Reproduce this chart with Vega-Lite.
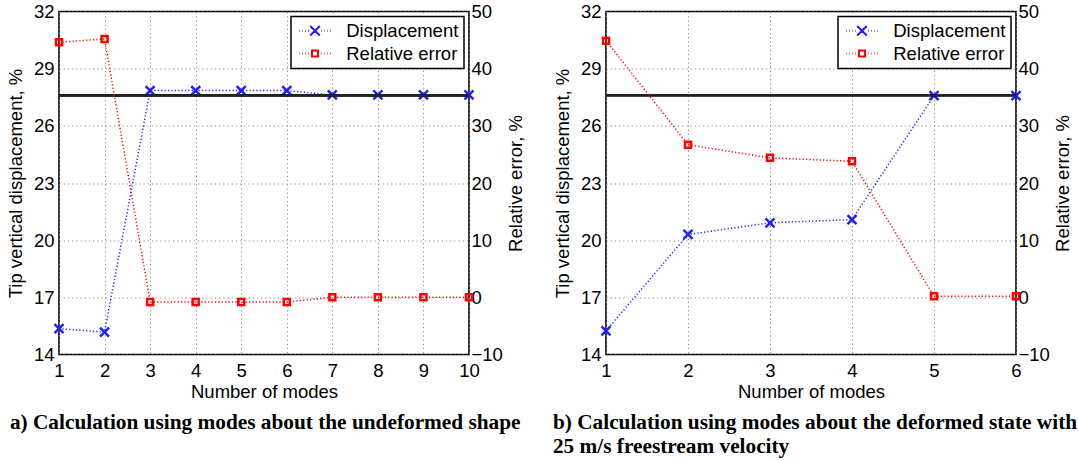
{
  "$schema": "https://vega.github.io/schema/vega-lite/v6.json",
  "padding": {"left": 6, "top": 1.5, "right": 0, "bottom": 0},
  "background": "white",
  "bounds": "flush",
  "spacing": 137,
  "datasets": {
    "a": [
      {"mode": 1, "series": "Displacement", "value": 15.36},
      {"mode": 2, "series": "Displacement", "value": 15.17},
      {"mode": 3, "series": "Displacement", "value": 27.85},
      {"mode": 4, "series": "Displacement", "value": 27.85},
      {"mode": 5, "series": "Displacement", "value": 27.85},
      {"mode": 6, "series": "Displacement", "value": 27.85},
      {"mode": 7, "series": "Displacement", "value": 27.62},
      {"mode": 8, "series": "Displacement", "value": 27.62},
      {"mode": 9, "series": "Displacement", "value": 27.62},
      {"mode": 10, "series": "Displacement", "value": 27.62},
      {"mode": 1, "series": "Relative error", "value": 44.6},
      {"mode": 2, "series": "Relative error", "value": 45.2},
      {"mode": 3, "series": "Relative error", "value": -0.8},
      {"mode": 4, "series": "Relative error", "value": -0.8},
      {"mode": 5, "series": "Relative error", "value": -0.8},
      {"mode": 6, "series": "Relative error", "value": -0.8},
      {"mode": 7, "series": "Relative error", "value": 0.0},
      {"mode": 8, "series": "Relative error", "value": 0.0},
      {"mode": 9, "series": "Relative error", "value": 0.0},
      {"mode": 10, "series": "Relative error", "value": 0.0}
    ],
    "b": [
      {"mode": 1, "series": "Displacement", "value": 15.24},
      {"mode": 2, "series": "Displacement", "value": 20.3},
      {"mode": 3, "series": "Displacement", "value": 20.91},
      {"mode": 4, "series": "Displacement", "value": 21.08},
      {"mode": 5, "series": "Displacement", "value": 27.58},
      {"mode": 6, "series": "Displacement", "value": 27.58},
      {"mode": 1, "series": "Relative error", "value": 44.9},
      {"mode": 2, "series": "Relative error", "value": 26.7},
      {"mode": 3, "series": "Relative error", "value": 24.4},
      {"mode": 4, "series": "Relative error", "value": 23.8},
      {"mode": 5, "series": "Relative error", "value": 0.2},
      {"mode": 6, "series": "Relative error", "value": 0.2}
    ]
  },
  "config": {
    "font": "Liberation Sans",
    "view": {"stroke": "black", "strokeWidth": 1.6},
    "axis": {
      "labelFont": "Liberation Sans",
      "titleFont": "Liberation Sans",
      "labelFontSize": 18.5,
      "titleFontSize": 18.5,
      "titleFontWeight": "normal",
      "labelColor": "black",
      "titleColor": "black",
      "domain": false,
      "ticks": false,
      "labelFlush": false,
      "gridColor": "#8a8a8a",
      "gridDash": [1.2, 3],
      "gridWidth": 1,
      "labelPadding": 5
    },
    "legend": {
      "labelFont": "Liberation Sans",
      "labelFontSize": 18.5,
      "labelColor": "black"
    },
    "title": {
      "font": "Liberation Serif",
      "fontSize": 21.3,
      "fontWeight": "bold",
      "color": "black"
    }
  },
  "resolve": {
    "scale": {"color": "independent", "shape": "independent"},
    "legend": {"color": "independent"}
  },
  "hconcat": [
    {
      "width": 410,
      "height": 343,
      "title": {
        "text": "a) Calculation using modes about the undeformed shape",
        "orient": "bottom",
        "anchor": "start",
        "offset": 11,
        "dx": 3
      },
      "data": {"name": "a"},
      "layer": [
        {
          "transform": [{"filter": "datum.series === 'Displacement'"}],
          "encoding": {
            "x": {
              "field": "mode", "type": "quantitative",
              "scale": {"domain": [1, 10], "nice": false, "zero": false},
              "axis": {"values": [1, 2, 3, 4, 5, 6, 7, 8, 9, 10], "format": "d", "title": "Number of modes", "grid": true, "labelPadding": 7, "titlePadding": 2}
            },
            "y": {
              "field": "value", "type": "quantitative",
              "scale": {"domain": [14, 32], "nice": false, "zero": false},
              "axis": {"orient": "left", "values": [14, 17, 20, 23, 26, 29, 32], "title": "Tip vertical displacement, %", "grid": true, "titlePadding": 7.5}
            },
            "color": {
              "field": "series", "type": "nominal",
              "scale": {"domain": ["Displacement", "Relative error"], "range": ["#1f1fff", "#ff0000"]},
              "legend": {
                "title": null,
                "orient": "top-right",
                "offset": 5,
                "padding": 5,
                "fillColor": "white",
                "strokeColor": "black",
                "symbolSize": 64,
                "symbolOffset": 9.75,
                "labelOffset": 22,
                "rowPadding": 3.8,
                "symbolStrokeWidth": 2,
                "encode": {
                  "legend": {"update": {"strokeWidth": {"value": 1.5}}},
                  "symbols": {
                    "update": {
                      "shape": {"signal": "datum.value === 'Displacement' ? 'M-1.2,-1.2L1.2,1.2M-1.2,1.2L1.2,-1.2M-4,0L-3.85,0M-3.25,0L-3.1,0M-2.5,0L-2.35,0M-1.75,0L-1.6,0M1.6,0L1.75,0M2.35,0L2.5,0M3.1,0L3.25,0M3.85,0L4,0' : 'M-0.75,-0.75L0.75,-0.75L0.75,0.75L-0.75,0.75Z M-4,0L-3.85,0M-3.25,0L-3.1,0M-2.5,0L-2.35,0M-1.75,0L-1.6,0M1.6,0L1.75,0M2.35,0L2.5,0M3.1,0L3.25,0M3.85,0L4,0'"},
                      "strokeWidth": {"value": 2},
                      "fill": {"value": "transparent"}
                    }
                  }
                }
              }
            }
          },
          "layer": [
            {"mark": {"type": "line", "strokeDash": [1.2, 2.2], "strokeWidth": 1.5}},
            {
              "mark": {"type": "point", "filled": false, "size": 81, "strokeWidth": 2.5, "opacity": 1, "shape": "M-1,-1L1,1M-1,1L1,-1"}
            },
            {
              "mark": {"type": "rule", "color": "#222222", "strokeWidth": 1.8},
              "encoding": {"y": {"datum": 27.6}, "x": {"datum": 1}, "x2": {"datum": 10}, "color": {"value": "#222222"}}
            }
          ]
        },
        {
          "transform": [{"filter": "datum.series === 'Relative error'"}],
          "encoding": {
            "x": {"field": "mode", "type": "quantitative"},
            "y": {
              "field": "value", "type": "quantitative",
              "scale": {"domain": [-10, 50], "nice": false, "zero": false},
              "axis": {"orient": "right", "values": [-10, 0, 10, 20, 30, 40, 50], "title": "Relative error, %", "grid": false, "labelPadding": 2, "titleAngle": 270, "titlePadding": 4, "titleBaseline": "top"}
            },
            "color": {"field": "series", "type": "nominal"}
          },
          "layer": [
            {"mark": {"type": "line", "strokeDash": [1.2, 2.2], "strokeWidth": 1.5}},
            {"mark": {"type": "point", "filled": false, "size": 36, "strokeWidth": 2.5, "opacity": 1, "shape": "square"}}
          ]
        }
      ],
      "resolve": {"scale": {"y": "independent"}, "axis": {"y": "independent"}}
    },
    {
      "width": 410,
      "height": 343,
      "title": {
        "text": ["b) Calculation using modes about the deformed state with", "25 m/s freestream velocity"],
        "orient": "bottom",
        "anchor": "start",
        "offset": 11,
        "dx": -1,
        "lineHeight": 24.5
      },
      "data": {"name": "b"},
      "layer": [
        {
          "transform": [{"filter": "datum.series === 'Displacement'"}],
          "encoding": {
            "x": {
              "field": "mode", "type": "quantitative",
              "scale": {"domain": [1, 6], "nice": false, "zero": false},
              "axis": {"values": [1, 2, 3, 4, 5, 6], "format": "d", "title": "Number of modes", "grid": true, "labelPadding": 7, "titlePadding": 2}
            },
            "y": {
              "field": "value", "type": "quantitative",
              "scale": {"domain": [14, 32], "nice": false, "zero": false},
              "axis": {"orient": "left", "values": [14, 17, 20, 23, 26, 29, 32], "title": "Tip vertical displacement, %", "grid": true, "titlePadding": 7.5}
            },
            "color": {
              "field": "series", "type": "nominal",
              "scale": {"domain": ["Displacement", "Relative error"], "range": ["#1f1fff", "#ff0000"]},
              "legend": {
                "title": null,
                "orient": "top-right",
                "offset": 5,
                "padding": 5,
                "fillColor": "white",
                "strokeColor": "black",
                "symbolSize": 64,
                "symbolOffset": 9.75,
                "labelOffset": 22,
                "rowPadding": 3.8,
                "symbolStrokeWidth": 2,
                "encode": {
                  "legend": {"update": {"strokeWidth": {"value": 1.5}}},
                  "symbols": {
                    "update": {
                      "shape": {"signal": "datum.value === 'Displacement' ? 'M-1.2,-1.2L1.2,1.2M-1.2,1.2L1.2,-1.2M-4,0L-3.85,0M-3.25,0L-3.1,0M-2.5,0L-2.35,0M-1.75,0L-1.6,0M1.6,0L1.75,0M2.35,0L2.5,0M3.1,0L3.25,0M3.85,0L4,0' : 'M-0.75,-0.75L0.75,-0.75L0.75,0.75L-0.75,0.75Z M-4,0L-3.85,0M-3.25,0L-3.1,0M-2.5,0L-2.35,0M-1.75,0L-1.6,0M1.6,0L1.75,0M2.35,0L2.5,0M3.1,0L3.25,0M3.85,0L4,0'"},
                      "strokeWidth": {"value": 2},
                      "fill": {"value": "transparent"}
                    }
                  }
                }
              }
            }
          },
          "layer": [
            {"mark": {"type": "line", "strokeDash": [1.2, 2.2], "strokeWidth": 1.5}},
            {
              "mark": {"type": "point", "filled": false, "size": 81, "strokeWidth": 2.5, "opacity": 1, "shape": "M-1,-1L1,1M-1,1L1,-1"}
            },
            {
              "mark": {"type": "rule", "color": "#222222", "strokeWidth": 1.8},
              "encoding": {"y": {"datum": 27.6}, "x": {"datum": 1}, "x2": {"datum": 6}, "color": {"value": "#222222"}}
            }
          ]
        },
        {
          "transform": [{"filter": "datum.series === 'Relative error'"}],
          "encoding": {
            "x": {"field": "mode", "type": "quantitative"},
            "y": {
              "field": "value", "type": "quantitative",
              "scale": {"domain": [-10, 50], "nice": false, "zero": false},
              "axis": {"orient": "right", "values": [-10, 0, 10, 20, 30, 40, 50], "title": "Relative error, %", "grid": false, "labelPadding": 2, "titleAngle": 270, "titlePadding": 4, "titleBaseline": "top"}
            },
            "color": {"field": "series", "type": "nominal"}
          },
          "layer": [
            {"mark": {"type": "line", "strokeDash": [1.2, 2.2], "strokeWidth": 1.5}},
            {"mark": {"type": "point", "filled": false, "size": 36, "strokeWidth": 2.5, "opacity": 1, "shape": "square"}}
          ]
        }
      ],
      "resolve": {"scale": {"y": "independent"}, "axis": {"y": "independent"}}
    }
  ]
}
